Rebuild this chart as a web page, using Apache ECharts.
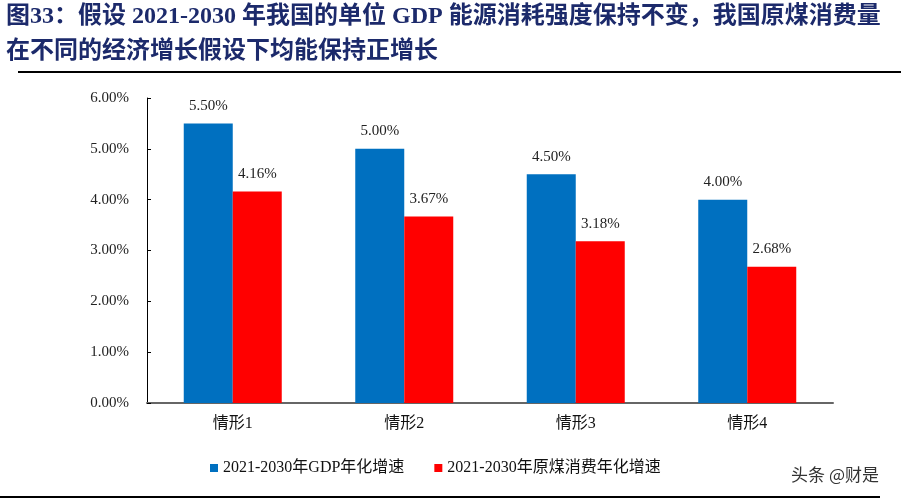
<!DOCTYPE html>
<html><head><meta charset="utf-8">
<script src="https://cdn.jsdelivr.net/npm/echarts@6/dist/echarts.min.js"></script>
<style>html,body{margin:0;padding:0;background:#fff;}#c{width:907px;height:504px;}</style>
</head><body><div id="c"></div>
<script>
const categories = ['情形1', '情形2', '情形3', '情形4'];
const gdpGrowth = [5.50, 5.00, 4.50, 4.00];
const coalGrowth = [4.16, 3.67, 3.18, 2.68];
const seriesNames = ['2021-2030年GDP年化增速', '2021-2030年原煤消费年化增速'];
const titleLines = ['图33：假设 2021-2030 年我国的单位 GDP 能源消耗强度保持不变，我国原煤消费量', '在不同的经济增长假设下均能保持正增长'];

const serif = '"Liberation Serif","Noto Sans CJK SC",serif';
const chart = echarts.init(document.getElementById('c'));
const fmt = v => v.toFixed(2) + '%';
chart.setOption({
  animation: false,
  graphic: [
    {type: 'text', left: 6, top: 5, style: {text: titleLines[0], font: 'bold 24px ' + serif, fill: '#1c2a6b'}},
    {type: 'text', left: 6, top: 40, style: {text: titleLines[1], font: 'bold 24px ' + serif, fill: '#1c2a6b'}},
    {type: 'rect', shape: {x: 18, y: 71, width: 883, height: 2}, style: {fill: '#000'}},
    {type: 'rect', shape: {x: 0, y: 496, width: 880, height: 2}, style: {fill: '#000'}},
    {type: 'text', right: 28, top: 466, style: {text: '头条 @财是', font: '17px "Noto Sans CJK SC",sans-serif', fill: '#333'}}
  ],
  grid: {left: 147, right: 74, top: 98, bottom: 101},
  legend: {
    top: 455, left: 205, itemWidth: 8, itemHeight: 8, itemGap: 30, icon: 'rect',
    textStyle: {fontFamily: serif, fontSize: 16, color: '#111'},
    data: seriesNames
  },
  xAxis: {
    type: 'category', data: categories,
    axisLine: {lineStyle: {color: '#666', width: 2}},
    axisTick: {show: false},
    axisLabel: {fontFamily: serif, fontSize: 16, color: '#111', margin: 13}
  },
  yAxis: {
    type: 'value', min: 0, max: 6, interval: 1,
    axisLine: {show: true, lineStyle: {color: '#000', width: 1}},
    axisTick: {show: true, inside: true, length: 4, lineStyle: {color: '#000'}},
    splitLine: {show: false},
    axisLabel: {formatter: v => v.toFixed(2) + '%', fontFamily: serif, fontSize: 15, color: '#222', margin: 18}
  },
  series: [
    {name: seriesNames[0], type: 'bar', data: gdpGrowth, barWidth: 49, barGap: '0%',
     itemStyle: {color: '#0070c0'},
     label: {show: true, position: 'top', distance: 10, formatter: p => fmt(p.value), fontFamily: serif, fontSize: 15, color: '#222'}},
    {name: seriesNames[1], type: 'bar', data: coalGrowth, barWidth: 49,
     itemStyle: {color: '#ff0000'},
     label: {show: true, position: 'top', distance: 10, formatter: p => fmt(p.value), fontFamily: serif, fontSize: 15, color: '#222'}}
  ]
});
</script></body></html>
